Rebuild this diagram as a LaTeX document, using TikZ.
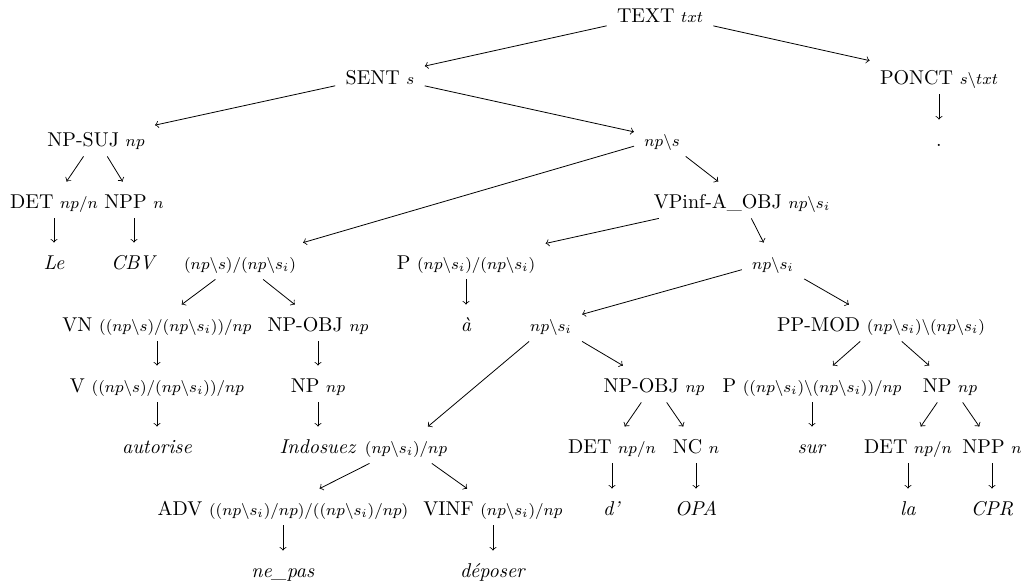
\documentclass[tikz,border=0pt]{standalone}
\newcommand{\cat}[1]{{\footnotesize$#1$}}
\newcommand{\bs}{\backslash}
\begin{document}
\begin{tikzpicture}[x=0.5pt,y=-0.5pt,
  tn/.style={anchor=base, inner xsep=5pt, inner ysep=0pt, text height=13pt, text depth=5pt},
  ed/.style={->, line width=0.4pt}]
\useasboundingbox (0,0) rectangle (1035,586);
% level 0
\node[tn] (text) at (660,22) {TEXT \cat{txt}};
% level 1
\node[tn] (sent) at (380,84) {SENT \cat{s}};
\node[tn] (ponct) at (939,84) {PONCT \cat{s\bs txt}};
% level 2
\node[tn] (npsuj) at (96,146) {NP-SUJ \cat{np}};
\node[tn] (nps) at (662,146) {\cat{np\bs s}};
\node[tn] (dot) at (939,146) {.};
% level 3
\node[tn] (det1) at (54,208) {DET \cat{np/n}};
\node[tn] (npp1) at (134,208) {NPP \cat{n}};
\node[tn] (vpinf) at (742,208) {VPinf-A\_OBJ \cat{np\bs s_i}};
% level 4
\node[tn] (le) at (54,269) {\textit{Le}};
\node[tn] (cbv) at (134,269) {\textit{CBV}};
\node[tn] (nss) at (240,269) {\cat{(np\bs s)/(np\bs s_i)}};
\node[tn] (p1) at (466,269) {P \cat{(np\bs s_i)/(np\bs s_i)}};
\node[tn] (nsi1) at (773,269) {\cat{np\bs s_i}};
% level 5
\node[tn] (vn) at (157,331) {VN \cat{((np\bs s)/(np\bs s_i))/np}};
\node[tn] (npobj1) at (318,331) {NP-OBJ \cat{np}};
\node[tn] (a) at (466,331) {\textit{\`a}};
\node[tn] (nsi2) at (551,331) {\cat{np\bs s_i}};
\node[tn] (ppmod) at (881,331) {PP-MOD \cat{(np\bs s_i)\bs(np\bs s_i)}};
% level 6
\node[tn] (v) at (157,392) {V \cat{((np\bs s)/(np\bs s_i))/np}};
\node[tn] (np1) at (318,392) {NP \cat{np}};
\node[tn] (npobj2) at (654,392) {NP-OBJ \cat{np}};
\node[tn] (p2) at (812,392) {P \cat{((np\bs s_i)\bs(np\bs s_i))/np}};
\node[tn] (np2) at (950,392) {NP \cat{np}};
% level 7
\node[tn] (autorise) at (157,453) {\textit{autorise}};
\node[tn] (indosuez) at (318,453) {\textit{Indosuez}};
\node[tn] (tv) at (406,453) {\cat{(np\bs s_i)/np}};
\node[tn] (det2) at (612,453) {DET \cat{np/n}};
\node[tn] (nc) at (696,453) {NC \cat{n}};
\node[tn] (sur) at (812,453) {\textit{sur}};
\node[tn] (det3) at (908,453) {DET \cat{np/n}};
\node[tn] (npp2) at (992,453) {NPP \cat{n}};
% level 8
\node[tn] (adv) at (283,515) {ADV \cat{((np\bs s_i)/np)/((np\bs s_i)/np)}};
\node[tn] (vinf) at (493,515) {VINF \cat{(np\bs s_i)/np}};
\node[tn] (d) at (612,515) {\textit{d'}};
\node[tn] (opa) at (696,515) {\textit{OPA}};
\node[tn] (la) at (908,515) {\textit{la}};
\node[tn] (cpr) at (992,515) {\textit{CPR}};
% level 9
\node[tn] (nepas) at (283,577) {\textit{ne\_pas}};
\node[tn] (deposer) at (493,577) {\textit{d\'eposer}};
% edges
\draw[ed] (text) -- (sent);
\draw[ed] (text) -- (ponct);
\draw[ed] (ponct) -- (dot);
\draw[ed] (sent) -- (npsuj);
\draw[ed] (sent) -- (nps);
\draw[ed] (npsuj) -- (det1);
\draw[ed] (npsuj) -- (npp1);
\draw[ed] (det1) -- (le);
\draw[ed] (npp1) -- (cbv);
\draw[ed] (nps) -- (nss);
\draw[ed] (nps) -- (vpinf);
\draw[ed] (vpinf) -- (p1);
\draw[ed] (vpinf) -- (nsi1);
\draw[ed] (p1) -- (a);
\draw[ed] (nss) -- (vn);
\draw[ed] (nss) -- (npobj1);
\draw[ed] (vn) -- (v);
\draw[ed] (v) -- (autorise);
\draw[ed] (npobj1) -- (np1);
\draw[ed] (np1) -- (indosuez);
\draw[ed] (nsi1) -- (nsi2);
\draw[ed] (nsi1) -- (ppmod);
\draw[ed] (nsi2) -- (tv);
\draw[ed] (nsi2) -- (npobj2);
\draw[ed] (npobj2) -- (det2);
\draw[ed] (npobj2) -- (nc);
\draw[ed] (det2) -- (d);
\draw[ed] (nc) -- (opa);
\draw[ed] (ppmod) -- (p2);
\draw[ed] (ppmod) -- (np2);
\draw[ed] (p2) -- (sur);
\draw[ed] (np2) -- (det3);
\draw[ed] (np2) -- (npp2);
\draw[ed] (det3) -- (la);
\draw[ed] (npp2) -- (cpr);
\draw[ed] (tv) -- (adv);
\draw[ed] (tv) -- (vinf);
\draw[ed] (adv) -- (nepas);
\draw[ed] (vinf) -- (deposer);
\end{tikzpicture}
\end{document}
